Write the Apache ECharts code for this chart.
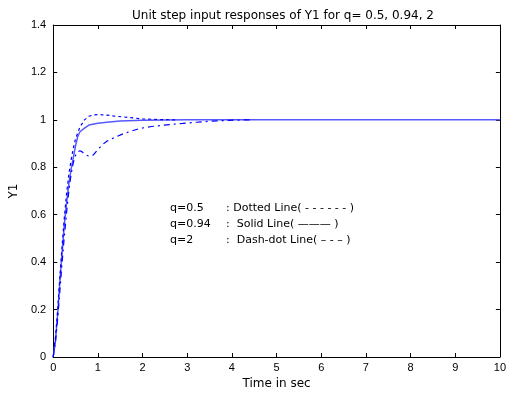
<!DOCTYPE html>
<html>
<head>
<meta charset="utf-8">
<script src="https://cdn.jsdelivr.net/npm/echarts@6/dist/echarts.min.js"></script>
<style>html,body{margin:0;padding:0;background:#fff;}#chart{width:509px;height:397px;}</style>
</head>
<body>
<div id="chart"></div>
<script>
// q = 0.94 (solid)
const tSolid = [0, 0.05, 0.1, 0.15, 0.2, 0.25, 0.3, 0.35, 0.4, 0.45, 0.5, 0.55, 0.6, 0.7, 0.8, 1.0, 1.2, 1.5, 2, 3, 4, 6, 8, 10];
const ySolid = [0, 0.07, 0.18, 0.32, 0.44, 0.56, 0.65, 0.73, 0.79, 0.84, 0.89, 0.93, 0.95, 0.965, 0.978, 0.986, 0.99, 0.995, 0.998, 1, 1, 1, 1, 1];
// q = 0.5 (dotted)
const tDot = [0, 0.05, 0.1, 0.15, 0.2, 0.25, 0.3, 0.35, 0.4, 0.45, 0.5, 0.6, 0.7, 0.8, 0.9, 1.0, 1.2, 1.4, 1.6, 1.8, 2.0, 2.4, 2.8];
const yDot = [0, 0.08, 0.2, 0.34, 0.47, 0.59, 0.69, 0.77, 0.83, 0.88, 0.92, 0.97, 1.0, 1.015, 1.021, 1.022, 1.02, 1.015, 1.012, 1.008, 1.004, 1.001, 1.0];
// q = 2 (dash-dot)
const tDash = [0, 0.05, 0.1, 0.15, 0.2, 0.25, 0.3, 0.35, 0.4, 0.45, 0.5, 0.55, 0.6, 0.65, 0.7, 0.8, 0.9, 1.0, 1.1, 1.2, 1.4, 1.55, 1.75, 1.95, 2.2, 2.45, 2.65, 2.9, 3.2, 3.5, 3.8, 4.1, 4.4];
const yDash = [0, 0.06, 0.16, 0.28, 0.4, 0.51, 0.61, 0.7, 0.77, 0.82, 0.85, 0.865, 0.87, 0.865, 0.855, 0.847, 0.852, 0.875, 0.895, 0.91, 0.928, 0.94, 0.953, 0.964, 0.972, 0.977, 0.981, 0.985, 0.99, 0.994, 0.997, 0.999, 1.0];

const titleText = 'Unit step input responses of Y1 for q= 0.5, 0.94, 2';
const xName = 'Time in sec';
const yName = 'Y1';
const noteRows = [
  ['q=0.5', ': Dotted Line( - - - - - - )'],
  ['q=0.94', ':  Solid Line( \u2014\u2014\u2014 )'],
  ['q=2', ':  Dash-dot Line( \u2013 - \u2013 )']
];

const zip = (a, b) => a.map((v, i) => [v, b[i]]);
const FONT = '"DejaVu Sans", Arial, sans-serif';
const TFONT = '"Liberation Sans", Arial, sans-serif';
const chart = echarts.init(document.getElementById('chart'), null, {renderer: 'canvas'});

const axisCommon = {
  axisLine: {show: true, onZero: false, lineStyle: {color: '#000', width: 1}},
  axisTick: {show: true, inside: true, length: 4, lineStyle: {color: '#000'}},
  splitLine: {show: false}
};

const graphics = [];
noteRows.forEach((r, i) => {
  graphics.push({type: 'text', left: 170, top: 203 + i * 16, style: {text: r[0], font: '11px ' + FONT, fill: '#000'}});
  graphics.push({type: 'text', left: 226, top: 203 + i * 16, style: {text: r[1], font: '11px ' + FONT, fill: '#000'}});
});

chart.setOption({
  animation: false,
  backgroundColor: '#fff',
  title: {text: titleText, left: 278, top: 5, textAlign: 'center',
    textStyle: {fontSize: 12, fontWeight: 'normal', color: '#000', fontFamily: FONT}},
  grid: {left: 52, right: 5, top: 25, bottom: 40},
  xAxis: [
    Object.assign({type: 'value', position: 'bottom', min: 0, max: 10, interval: 1,
      name: xName, nameLocation: 'middle', nameGap: 21,
      nameTextStyle: {fontSize: 12, color: '#000', fontFamily: FONT},
      axisLabel: {fontSize: 11, color: '#000', fontFamily: TFONT, margin: 5}}, axisCommon),
    Object.assign({type: 'value', position: 'top', min: 0, max: 10, interval: 1,
      axisLabel: {show: false}}, axisCommon)
  ],
  yAxis: [
    Object.assign({type: 'value', position: 'left', min: 0, max: 1.4, interval: 0.2,
      name: yName, nameLocation: 'middle', nameGap: 28,
      nameTextStyle: {fontSize: 12, color: '#000', fontFamily: FONT},
      axisLabel: {fontSize: 11, color: '#000', fontFamily: TFONT, margin: 7,
        formatter: v => String(Math.round(v * 10) / 10)}}, axisCommon),
    Object.assign({type: 'value', position: 'right', min: 0, max: 1.4, interval: 0.2,
      axisLabel: {show: false}}, axisCommon)
  ],
  series: [
    {type: 'line', data: zip(tSolid, ySolid), showSymbol: false, symbol: 'none',
      lineStyle: {color: '#5858ff', width: 1.5, type: 'solid'}},
    {type: 'line', data: zip(tDot, yDot), showSymbol: false, symbol: 'none',
      lineStyle: {color: '#0000ff', width: 1.2, type: [3, 3]}},
    {type: 'line', data: zip(tDash, yDash), showSymbol: false, symbol: 'none',
      lineStyle: {color: '#0000ff', width: 1.2, type: [6, 4, 2, 4]}}
  ],
  graphic: graphics
});
</script>
</body>
</html>
